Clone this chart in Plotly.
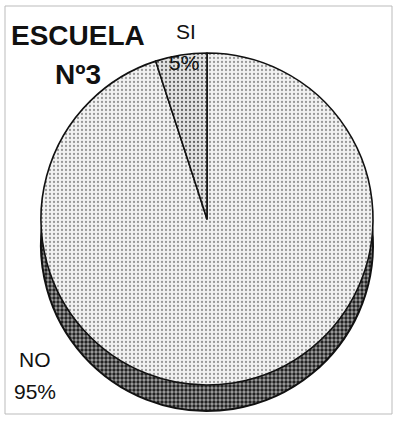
import plotly.graph_objects as go

# Data
labels = ["NO", "SI"]
values = [95, 5]
title_line1 = "ESCUELA"
title_line2 = "Nº3"

W, H = 400, 421

def dom_x(cx, r):
    return [(cx - r) / W, (cx + r) / W]

def dom_y(cy, r):
    return [(H - (cy + r)) / H, (H - (cy - r)) / H]

cx, cy, r = 207, 219, 166
depth = 26

fig = go.Figure()

# depth (side) of the 3D pie
fig.add_trace(go.Pie(
    labels=labels, values=values, sort=False, direction="clockwise", rotation=0,
    domain=dict(x=dom_x(cx, r), y=dom_y(cy + depth, r)),
    marker=dict(colors=["#8a8a8a", "#8a8a8a"],
                line=dict(color="#111111", width=2),
                pattern=dict(shape=".", fgcolor="#222222", bgcolor="#a0a0a0", size=4, solidity=0.55)),
    textinfo="none", hoverinfo="skip", showlegend=False,
))

# top face
fig.add_trace(go.Pie(
    labels=labels, values=values, sort=False, direction="clockwise", rotation=0,
    domain=dict(x=dom_x(cx, r), y=dom_y(cy, r)),
    marker=dict(colors=["#ececec", "#d4d4d4"],
                line=dict(color="#111111", width=1.6),
                pattern=dict(shape=".", fgcolor=["#999999", "#666666"], bgcolor=["#f2f2f2", "#e2e2e2"],
                             size=4, solidity=0.25)),
    textinfo="none", hoverinfo="label+percent", showlegend=False,
))

total = sum(values)
pct = {lab: f"{round(v * 100 / total)}%" for lab, v in zip(labels, values)}

ff = "Liberation Sans, Arial, sans-serif"
font = dict(family=ff, size=21, color="#111111")
annotations = [
    dict(text=f"<b>{title_line1}</b>", x=9 / W, y=1 - 35 / H, xanchor="left", yanchor="middle",
         font=dict(family=ff, size=28, color="#111111")),
    dict(text=f"<b>{title_line2}</b>", x=78 / W, y=1 - 74 / H, xanchor="center", yanchor="middle",
         font=dict(family=ff, size=28, color="#111111")),
    dict(text="SI", x=186 / W, y=1 - 31 / H, xanchor="center", yanchor="middle", font=font),
    dict(text=pct["SI"], x=184 / W, y=1 - 62 / H, xanchor="center", yanchor="middle", font=font),
    dict(text="NO", x=35 / W, y=1 - 359 / H, xanchor="center", yanchor="middle", font=font),
    dict(text=pct["NO"], x=35 / W, y=1 - 391 / H, xanchor="center", yanchor="middle", font=font),
]
for a in annotations:
    a.update(xref="paper", yref="paper", showarrow=False)

fig.update_layout(
    width=W, height=H,
    margin=dict(l=0, r=0, t=0, b=0),
    paper_bgcolor="white", plot_bgcolor="white",
    annotations=annotations,
    shapes=[dict(type="rect", xref="paper", yref="paper",
                 x0=5 / W, x1=392 / W, y0=1 - 414 / H, y1=1 - 6 / H,
                 line=dict(color="#bbbbbb", width=1))],
)

fig.write_html("out.html", config={"displayModeBar": False},
               post_script="document.body.style.margin='0';")
